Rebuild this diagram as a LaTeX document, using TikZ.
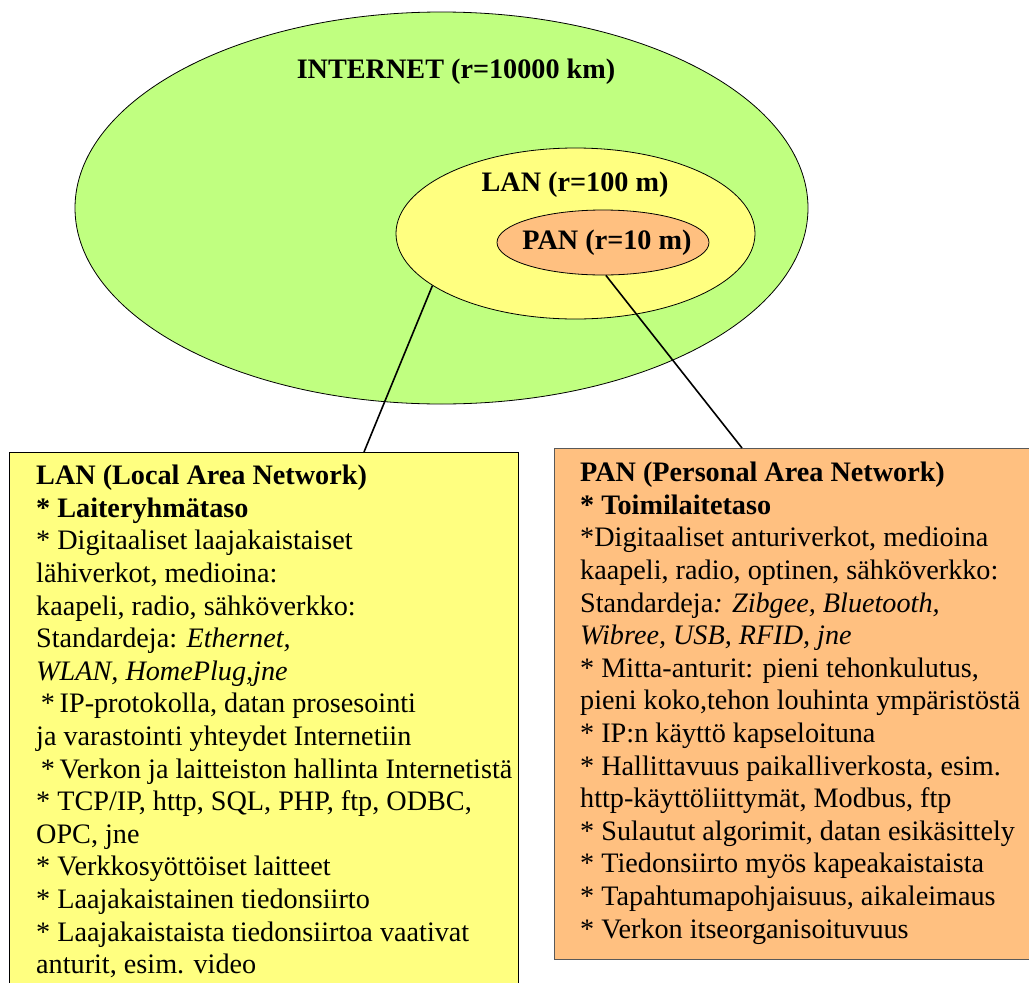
\documentclass[tikz,border=0pt]{standalone}
\usepackage{fontspec}
\setmainfont{Liberation Serif}
\usetikzlibrary{shapes.geometric}

\definecolor{netgreen}{RGB}{192,255,128}
\definecolor{lanyellow}{RGB}{255,255,128}
\definecolor{panorange}{RGB}{255,192,128}

\tikzset{
    zone/.style={ellipse, draw=black, line width=0.8pt, inner sep=0pt},
    zonelabel/.style={font=\fontsize{28.2}{32.6}\selectfont\bfseries, inner sep=0pt},
    infobox/.style={rectangle, draw=black, line width=1.2pt, inner sep=0pt, anchor=north west},
    boxtext/.style={font=\fontsize{28.2}{32.6}\selectfont, align=left, anchor=north west, inner sep=0pt},
    pointer/.style={line width=1.6pt}
}

\begin{document}
\begin{tikzpicture}[x=1pt,y=1pt,yscale=-1]
    \useasboundingbox (0,0) rectangle (1029,983);
    \clip (0,0) rectangle (1029,983);

    %Shape: Ellipses
    \node [zone, fill=netgreen, minimum width=733, minimum height=392] (internet) at (441.5,208) {};
    \node [zone, fill=lanyellow, minimum width=359, minimum height=171] (lan) at (575.5,233.5) {};
    \node [zone, fill=panorange, minimum width=212, minimum height=65] (pan) at (603,242.5) {};

    % Text Node
    \node [zonelabel] (internetlabel) at (456,72) {INTERNET (r=10000 km)};
    % Text Node
    \node [zonelabel] (lanlabel) at (575,185) {LAN (r=100 m)};
    % Text Node
    \node [zonelabel] (panlabel) at (607,243) {PAN (r=10 m)};

    %Shape: Rectangles
    \node [infobox, fill=lanyellow, minimum width=509, minimum height=560] (lanbox) at (9,452) {};
    \node [infobox, fill=panorange, draw=black!65, minimum width=490, minimum height=511] (panbox) at (554,448) {};

    %Straight Lines
    \coordinate (lanhook) at (364,452);
    \coordinate (panhook) at (742,448);
    \draw [pointer] (lan.200) -- (lanhook);
    \draw [pointer] (pan.275) -- (panhook);

    % Text Node
    \node [boxtext] (lantext) at (36,465) {\textbf{LAN (Local Area Network)}\\
    \textbf{* Laiteryhmätaso}\\
    * Digitaaliset laajakaistaiset\\
    lähiverkot, medioina:\\
    kaapeli, radio, sähköverkko:\\
    Standardeja: \textit{Ethernet,}\\
    \textit{WLAN, HomePlug,jne}\\
    \,*\,IP-protokolla, datan prosesointi\\
    ja varastointi yhteydet Internetiin\\
    \,*\,Verkon ja laitteiston hallinta Internetistä\\
    * TCP/IP, http, SQL, PHP, ftp, ODBC,\\
    OPC, jne\\
    * Verkkosyöttöiset laitteet\\
    * Laajakaistainen tiedonsiirto\\
    * Laajakaistaista tiedonsiirtoa vaativat\\
    anturit, esim. video};
    % Text Node
    \node [boxtext] (pantext) at (580,462) {\textbf{PAN (Personal Area Network)}\\
    \textbf{* Toimilaitetaso}\\
    *Digitaaliset anturiverkot, medioina\\
    kaapeli, radio, optinen, sähköverkko:\\
    Standardeja\textit{: Zibgee, Bluetooth,}\\
    \textit{Wibree, USB, RFID, jne}\\
    * Mitta-anturit: pieni tehonkulutus,\\
    pieni koko,tehon louhinta ympäristöstä\\
    * IP:n käyttö kapseloituna\\
    * Hallittavuus paikalliverkosta, esim.\\
    http-käyttöliittymät, Modbus, ftp\\
    * Sulautut algorimit, datan esikäsittely\\
    * Tiedonsiirto myös kapeakaistaista\\
    * Tapahtumapohjaisuus, aikaleimaus\\
    * Verkon itseorganisoituvuus};

\end{tikzpicture}
\end{document}
